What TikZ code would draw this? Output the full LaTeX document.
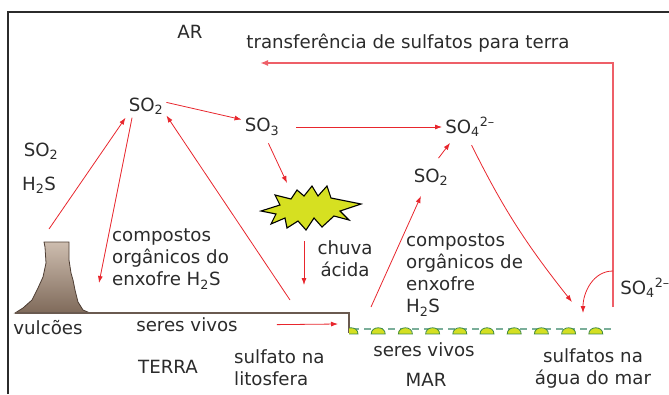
\documentclass[tikz,border=0pt]{standalone}
\usepackage{fontspec}
\setmainfont{DejaVu Sans}
\usepackage{tikz}
\usetikzlibrary{arrows.meta}
\usepackage{xcolor}

\definecolor{ink}{HTML}{2B2B2B}
\definecolor{arrred}{HTML}{E8262D}
\definecolor{backred}{HTML}{EE5F68}
\definecolor{rocktop}{HTML}{CDBDAF}
\definecolor{rockbot}{HTML}{7F6A5A}
\definecolor{rockline}{HTML}{4E3E34}
\definecolor{soil}{HTML}{6A5A50}
\definecolor{sealine}{HTML}{7AAE9A}
\definecolor{algae}{HTML}{D4DF22}
\definecolor{algaeline}{HTML}{3F8A3F}
\definecolor{acidfill}{HTML}{D6E021}
\newcommand{\idx}[1]{\textsubscript{#1}}

\begin{document}
\begin{tikzpicture}[x=1pt, y=-1pt,
  lbl/.style={font=\fontsize{18.2}{22}\selectfont, text=ink, inner sep=3pt},
  arr/.style={-{Latex[length=7pt,width=5pt]}, draw=arrred, line width=.8pt}]
  \useasboundingbox (0,0) rectangle (669,394);
  % frame
  \draw[line width=1.6pt, ink] (8,394) -- (8,12) -- (669,12);

  % volcano and ground
  \draw[top color=rocktop, bottom color=rockbot, draw=rockline, line width=.8pt]
    (15,313) -- (23,308) -- (32,300) -- (38,288) -- (43,277) -- (46,263) -- (45,247)
    -- (44,242) -- (69,242) -- (69,260) -- (71,273) -- (73,280) -- (75,290)
    -- (78,302) -- (83,310) -- (90,313) -- cycle;
  \draw[soil, line width=1.5pt] (15,313) -- (349,313) -- (349,333);

  % sea floor
  \draw[sealine, line width=1.2pt, dash pattern=on 7pt off 5pt] (352,329) -- (614,329);
  \begin{scope}
    \clip (349,320) rectangle (620,340);
    \foreach \bx in {351,378.2,...,600}
      \filldraw[fill=algae, draw=algaeline, line width=.8pt]
        (\bx-7,334) .. controls (\bx-7,325.7) and (\bx+7,325.7) .. (\bx+7,334) -- cycle;
  \end{scope}

  % acid rain cloud
  \filldraw[fill=acidfill, draw=black, line width=1.1pt]
    (261,211) -- (280,205) -- (275,195) -- (291,199) -- (297,190) -- (304,196)
    -- (312,186) -- (318,196) -- (327,186) -- (331,198) -- (361,204) -- (340,211)
    -- (349,220) -- (334,216) -- (322,227) -- (314,218) -- (306,230) -- (298,221)
    -- (287,228) -- (285,218) -- (271,224) -- (276,214) -- cycle;

  % labels
  \node[lbl] (ar) at (190,32) {AR};
  \node[lbl] (transf) at (408,43) {transferência de sulfatos para terra};
  \node[lbl] (so2a) at (146,106) {SO\idx{2}};
  \node[lbl] (so3) at (262,127) {SO\idx{3}};
  \node[lbl] (so4a) at (470,127) {SO\idx{4}\textsuperscript{2–}};
  \node[lbl] (so2b) at (431,177) {SO\idx{2}};
  \node[lbl] (so2c) at (41,151) {SO\idx{2}};
  \node[lbl] (h2s) at (39,185) {H\idx{2}S};
  \node[lbl] (so4b) at (645,288) {SO\idx{4}\textsuperscript{2–}};
  \node[lbl, align=left, anchor=west, inner sep=0pt] (compL) at (112,259)
    {compostos\\orgânicos do\\enxofre H\idx{2}S};
  \node[lbl, align=center] (chuva) at (345,259) {chuva\\ácida};
  \node[lbl, align=left, anchor=west, inner sep=0pt] (compM) at (406,275)
    {compostos\\orgânicos de\\enxofre\\H\idx{2}S};
  \node[lbl] (vulc) at (48,328) {vulcões};
  \node[lbl] (servL) at (187,325) {seres vivos};
  \node[lbl] (terra) at (168,367) {TERRA};
  \node[lbl, align=left, anchor=west, inner sep=0pt] (lito) at (234,368)
    {sulfato na\\litosfera};
  \node[lbl] (servM) at (424,350) {seres vivos};
  \node[lbl] (mar) at (426,380) {MAR};
  \node[lbl, align=center] (sulfM) at (593,368) {sulfatos na\\água do mar};

  % free ends
  \coordinate (crater) at (49,229);
  \coordinate (orgL) at (99,283);
  \coordinate (soilup) at (290,300);
  \coordinate (cloudup) at (287,183);
  \coordinate (clouddn) at (304,241);
  \coordinate (rain) at (304,285);
  \coordinate (corner) at (338,324);
  \coordinate (orgM) at (371,307);
  \coordinate (seaA) at (572,302);
  \coordinate (seaB) at (583,313);
  \coordinate (seaup) at (613,307);
  \coordinate (fork) at (613,271);
  \coordinate (landin) at (260,63);

  % cycle arrows
  \draw[arr] (crater) -- (so2a.south west);
  \draw[arr] (so2a.-140) -- (orgL);
  \draw[arr] (soilup) -- (so2a.-25);
  \draw[arr] (so2a.10) -- (so3.160);
  \draw[arr, shorten <=5pt] (so3.-70) -- (cloudup);
  \draw[arr] (clouddn) -- (rain);
  \draw[arr, shorten <=14pt] (so3.east) -- (so4a.west);
  \draw[arr, shorten <=9pt, shorten >=4pt] (so2b.80) -- (so4a.-144);
  \draw[arr, shorten >=8pt] (orgM) -- (so2b.-120);
  \draw[arr, shorten <=6pt] (so4a.-95) to[bend right=6] (seaA);
  \draw[arr, shorten <=36pt] (servL.east) -- (corner);
  \draw[backred, line width=1.8pt, -{Latex[length=8pt,width=6pt]}] (seaup) |- (landin);
  \draw[arr] (fork) to[out=180, in=90] (seaB);
\end{tikzpicture}
\end{document}
